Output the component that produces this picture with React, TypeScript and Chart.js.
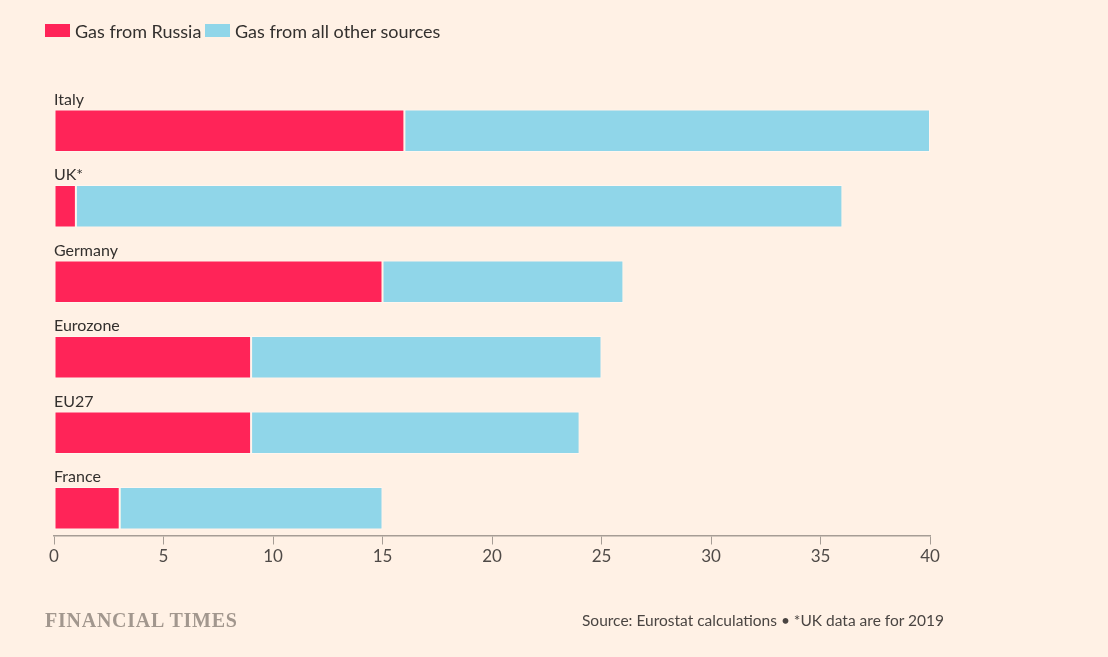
import React, { useEffect, useRef } from "react";
import { Chart, registerables } from "chart.js";

Chart.register(...registerables);

const categories = ["Italy", "UK*", "Germany", "Eurozone", "EU27", "France"];
const russia = [16, 1, 15, 9, 9, 3];
const otherSources = [24, 35, 11, 16, 15, 12];
const xTicks = [0, 5, 10, 15, 20, 25, 30, 35, 40];

const PAPER = "#fff1e5";
const RED = "#ff2458";
const BLUE = "#90d6e9";
const TEXT = "#33302e";
const FONT = "Lato, 'Open Sans', sans-serif";

const categoryLabels = {
  id: "categoryLabels",
  afterDatasetsDraw(chart: any) {
    const meta = chart.getDatasetMeta(0);
    const ctx = chart.ctx;
    ctx.save();
    ctx.font = `16px ${FONT}`;
    ctx.fillStyle = TEXT;
    ctx.textAlign = "left";
    ctx.textBaseline = "alphabetic";
    meta.data.forEach((el: any, i: number) => {
      const top = el.y - el.height / 2;
      ctx.fillText(categories[i], chart.chartArea.left, top - 5);
    });
    ctx.restore();
  },
};

export default function App() {
  const ref = useRef<HTMLCanvasElement>(null);

  useEffect(() => {
    document.body.style.margin = "0";
    const chart = new Chart(ref.current!, {
      type: "bar",
      data: {
        labels: categories,
        datasets: [
          {
            label: "Gas from Russia",
            data: russia,
            backgroundColor: RED,
            borderColor: "rgba(255,246,240,0.9)",
            borderWidth: 1,
            borderSkipped: false,
          },
          {
            label: "Gas from all other sources",
            data: otherSources,
            backgroundColor: BLUE,
            borderColor: "rgba(255,246,240,0.9)",
            borderWidth: 1,
            borderSkipped: false,
          },
        ],
      },
      options: {
        indexAxis: "y",
        responsive: false,
        animation: false,
        layout: { padding: { left: 54, right: 178, top: 93, bottom: 111 } },
        datasets: { bar: { categoryPercentage: 1, barPercentage: 0.56 } },
        scales: {
          y: {
            type: "category",
            stacked: true,
            display: false,
          },
          x: {
            type: "linear",
            stacked: true,
            min: 0,
            max: 40,
            position: { y: 5.358 } as any,
            afterBuildTicks: (scale: any) => {
              scale.ticks = xTicks.map((v) => ({ value: v }));
            },
            grid: {
              drawOnChartArea: false,
              drawTicks: true,
              tickLength: 8,
              color: "#a69d95",
              lineWidth: 1,
            },
            border: { display: true, color: "#a69d95", width: 1.5 },
            ticks: {
              color: "#4f4a47",
              font: { family: FONT, size: 17 },
              padding: 3,
            },
          },
        },
        plugins: {
          legend: { display: false },
          tooltip: { enabled: false },
        },
      },
      plugins: [categoryLabels],
    });
    return () => chart.destroy();
  }, []);

  const legendText: React.CSSProperties = {
    position: "absolute",
    top: 20,
    fontFamily: FONT,
    fontSize: 18,
    color: TEXT,
    lineHeight: "22px",
    whiteSpace: "nowrap",
  };

  return (
    <div
      style={{
        position: "absolute",
        left: 0,
        top: 0,
        width: 1108,
        height: 657,
        background: PAPER,
        overflow: "hidden",
      }}
    >
      <canvas ref={ref} width={1108} height={657} style={{ position: "absolute", left: 0, top: 0 }} />
      <div style={{ position: "absolute", left: 45, top: 24, width: 25, height: 13, background: RED }} />
      <div style={{ ...legendText, left: 75 }}>Gas from Russia</div>
      <div style={{ position: "absolute", left: 205, top: 24, width: 25, height: 13, background: BLUE }} />
      <div style={{ ...legendText, left: 235 }}>Gas from all other sources</div>
      <div
        style={{
          position: "absolute",
          left: 45,
          top: 607,
          fontFamily: "'Liberation Serif', 'DejaVu Serif', serif",
          fontSize: 20,
          fontWeight: 700,
          letterSpacing: "0.75px",
          color: "#a2978e",
          lineHeight: "26px",
          whiteSpace: "nowrap",
        }}
      >
        FINANCIAL TIMES
      </div>
      <div
        style={{
          position: "absolute",
          right: 1108 - 944,
          top: 609,
          fontFamily: FONT,
          fontSize: 15.5,
          color: "#4a4542",
          lineHeight: "22px",
          whiteSpace: "nowrap",
        }}
      >
        Source: Eurostat calculations • *UK data are for 2019
      </div>
    </div>
  );
}
